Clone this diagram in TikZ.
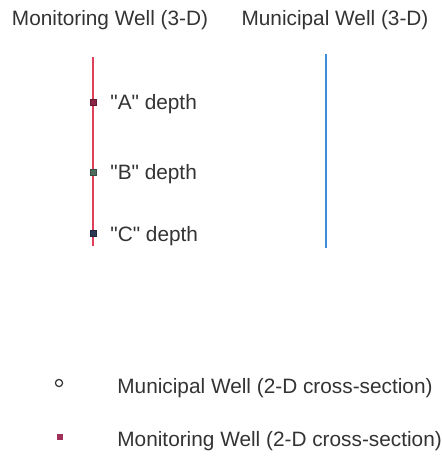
\documentclass[tikz,border=0pt]{standalone}
\usepackage{fontspec}
\setmainfont{Liberation Sans}
\definecolor{txtgray}{HTML}{333333}
\definecolor{monred}{HTML}{E0405A}
\definecolor{munblue}{HTML}{3A8FD8}
\definecolor{depthA}{HTML}{8B2545}
\definecolor{depthB}{HTML}{4E6B5C}
\definecolor{depthC}{HTML}{2B3A52}
\definecolor{legsq}{HTML}{A0305A}
\tikzset{
  lbl/.style={font=\fontsize{10.4}{12}\selectfont, text=txtgray, inner sep=0pt},
  depthbox/.style={draw=#1!70!black, fill=#1, minimum size=2.9pt, inner sep=0pt, line width=0.3pt},
}
\begin{document}
\begin{tikzpicture}[x=0.5pt,y=-0.5pt]
  \useasboundingbox (0,0) rectangle (442,465);
  % titles
  \node[lbl] (montitle) at (110,20) {Monitoring Well (3-D)};
  \node[lbl] (muntitle) at (335,20) {Municipal Well (3-D)};
  % wells
  \coordinate (montop) at (93,57);
  \coordinate (monbot) at (93,246);
  \coordinate (muntop) at (326,54);
  \coordinate (munbot) at (326,248);
  \draw[monred, line width=0.7pt] (montop) -- (monbot);
  \draw[munblue, line width=0.8pt] (muntop) -- (munbot);
  % sample depths
  \node[depthbox=depthA] (a) at (93,102) {};
  \node[depthbox=depthB] (b) at (93,172) {};
  \node[depthbox=depthC] (c) at (93,233) {};
  \node[lbl, anchor=west] (alab) at (110,104) {\textquotedbl A\textquotedbl{} depth};
  \node[lbl, anchor=west] (blab) at (110,174) {\textquotedbl B\textquotedbl{} depth};
  \node[lbl, anchor=west] (clab) at (110,236) {\textquotedbl C\textquotedbl{} depth};
  % legend
  \node[draw=txtgray, fill=white, circle, minimum size=3.6pt, inner sep=0pt, line width=0.6pt] (legmun) at (59,383) {};
  \node[fill=legsq, minimum size=2.8pt, inner sep=0pt] (legmon) at (60,437) {};
  \node[lbl, anchor=west] (legmuntxt) at (117,388) {Municipal Well (2-D cross-section)};
  \node[lbl, anchor=west] (legmontxt) at (117,441) {Monitoring Well (2-D cross-section)};
\end{tikzpicture}
\end{document}
